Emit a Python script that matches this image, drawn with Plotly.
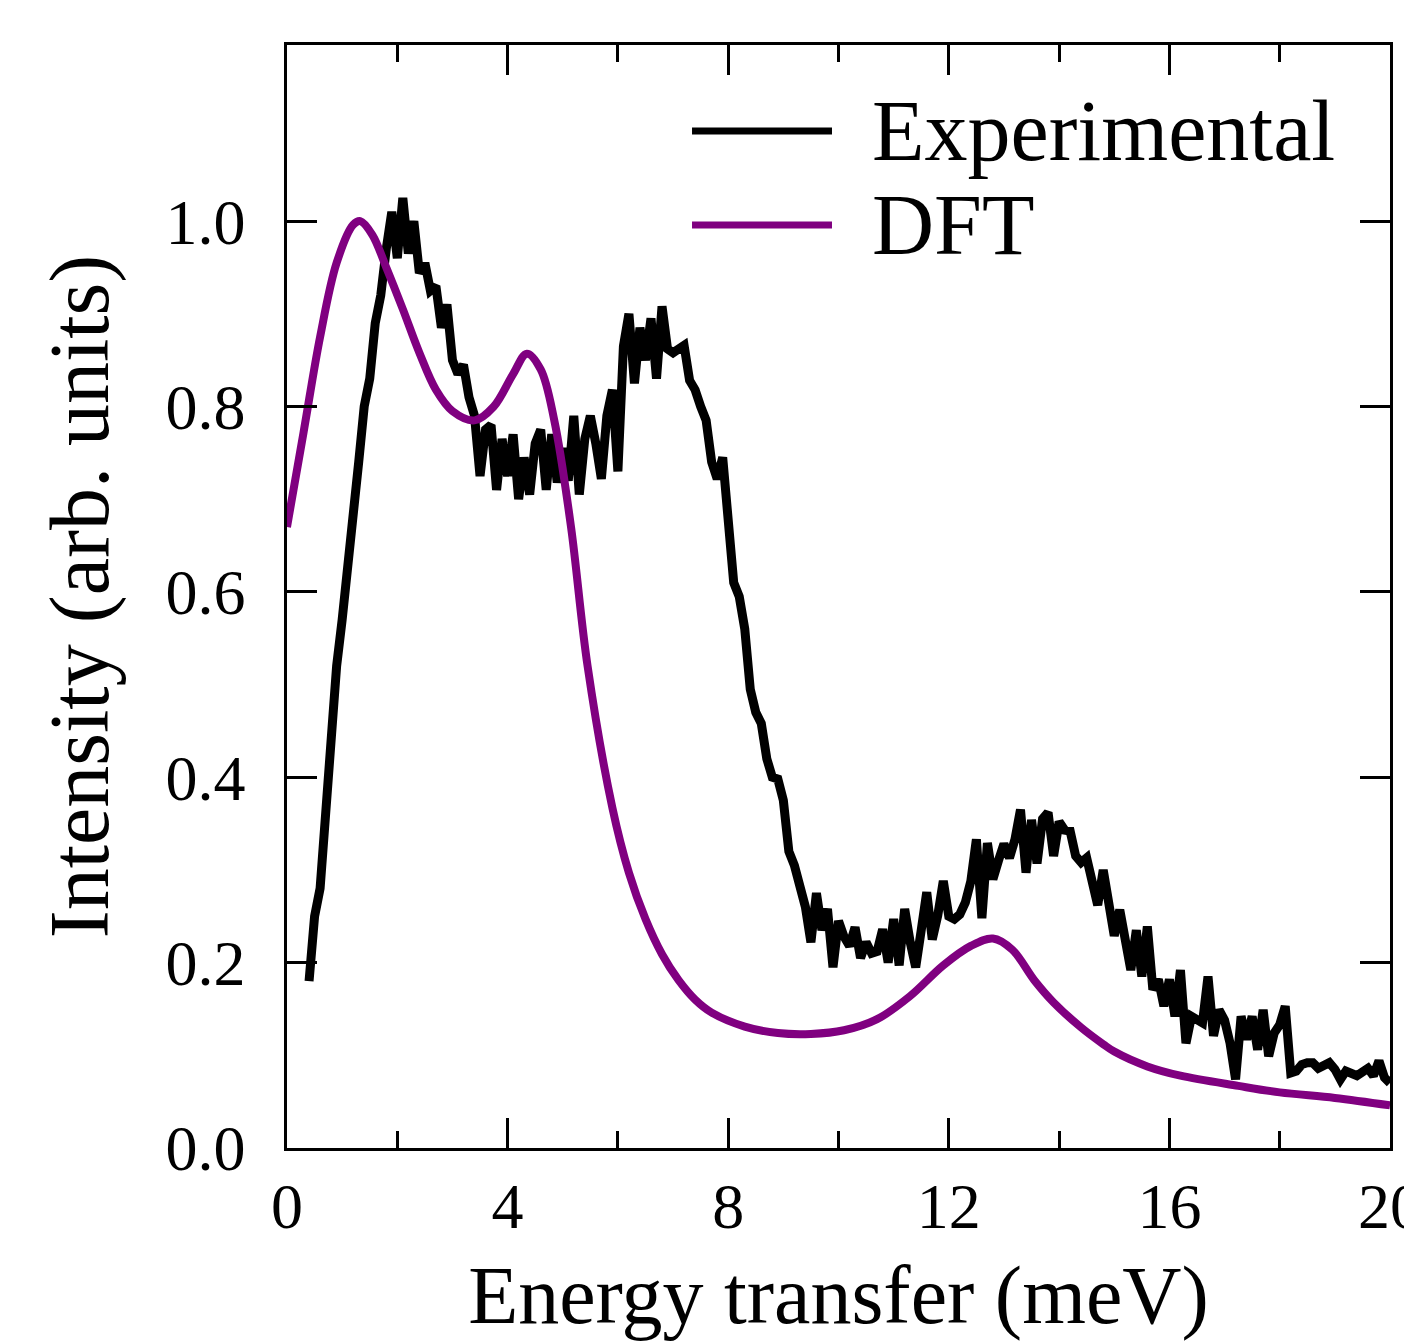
import numpy as np
import plotly.graph_objects as go

# ---------------- data ----------------
EXP_X0 = 0.4          # first energy bin (meV)
EXP_STEP = 0.1        # bin width (meV)
EXP_Y = [
    0.18, 0.25, 0.28, 0.37, 0.45, 0.52,                                  # 0.4-0.9
    0.57, 0.62, 0.69, 0.74, 0.80, 0.83, 0.89, 0.92, 0.97, 1.01,          # 1.0-1.9
    0.96, 1.025, 0.965, 1.00, 0.944, 0.955, 0.925, 0.93, 0.885, 0.91,    # 2.0-2.9
    0.85, 0.835, 0.845, 0.81, 0.79, 0.725, 0.775, 0.78, 0.71, 0.765,     # 3.0-3.9
    0.725, 0.77, 0.70, 0.745, 0.705, 0.76, 0.775, 0.71, 0.77, 0.718,     # 4.0-4.9
    0.755, 0.72, 0.79, 0.705, 0.765, 0.79, 0.76, 0.722, 0.79, 0.818,     # 5.0-5.9
    0.73, 0.865, 0.90, 0.825, 0.885, 0.85, 0.895, 0.83, 0.908, 0.862,    # 6.0-6.9
    0.858, 0.862, 0.866, 0.828, 0.818, 0.80, 0.785, 0.74, 0.722, 0.745,  # 7.0-7.9
    0.665, 0.61, 0.595, 0.56, 0.495, 0.47, 0.458, 0.42, 0.40, 0.398,     # 8.0-8.9
    0.375, 0.32, 0.305, 0.283, 0.26, 0.222, 0.275, 0.235, 0.258, 0.195,  # 9.0-9.9
    0.245, 0.228, 0.218, 0.238, 0.205, 0.222, 0.21, 0.212, 0.236, 0.20,  # 10.0-10.9
    0.247, 0.197, 0.258, 0.222, 0.195, 0.235, 0.276, 0.225, 0.251, 0.288,  # 11.0-11.9
    0.25, 0.247, 0.252, 0.265, 0.288, 0.333, 0.248, 0.329, 0.29, 0.31,   # 12.0-12.9
    0.328, 0.313, 0.333, 0.365, 0.297, 0.354, 0.307, 0.355, 0.362, 0.315,  # 13.0-13.9
    0.352, 0.343, 0.342, 0.315, 0.308, 0.313, 0.29, 0.262, 0.30, 0.27,   # 14.0-14.9
    0.229, 0.257, 0.221, 0.192, 0.235, 0.185, 0.239, 0.171, 0.182, 0.153,  # 15.0-15.9
    0.182, 0.142, 0.192, 0.113, 0.142, 0.138, 0.135, 0.185, 0.121, 0.149,  # 16.0-16.9
    0.138, 0.113, 0.074, 0.142, 0.117, 0.142, 0.106, 0.149, 0.099, 0.124,  # 17.0-17.9
    0.133, 0.153, 0.081, 0.083, 0.09, 0.092, 0.092, 0.086, 0.088, 0.092,   # 18.0-18.9
    0.085, 0.074, 0.083, 0.08, 0.078, 0.082, 0.086, 0.078, 0.094, 0.076,   # 19.0-19.9
    0.07,                                                                  # 20.0
]
EXP_X = [round(EXP_X0 + EXP_STEP * i, 2) for i in range(len(EXP_Y))]

DFT_X = [0.0, 0.3, 0.6, 0.9, 1.2, 1.33, 1.55, 1.8, 2.1, 2.4, 2.7, 3.0, 3.4,
         3.75, 4.1, 4.35, 4.6, 4.85, 5.15, 5.45, 5.9, 6.2, 6.5, 6.8, 7.1,
         7.4, 7.7, 8.3, 8.9, 9.5, 10.1, 10.7, 11.3, 11.9, 12.4, 12.8, 13.15,
         13.55, 13.9, 14.4, 14.8, 15.0, 15.6, 16.2, 17.25, 18.0, 19.0, 20.0]
DFT_Y = [0.67, 0.772, 0.875, 0.955, 0.996, 1.0, 0.985, 0.95, 0.905, 0.858,
         0.818, 0.795, 0.785, 0.80, 0.835, 0.857, 0.84, 0.784, 0.67, 0.52,
         0.367, 0.297, 0.247, 0.209, 0.181, 0.16, 0.146, 0.131, 0.124, 0.123,
         0.127, 0.139, 0.164, 0.197, 0.218, 0.226, 0.214, 0.181, 0.157, 0.13,
         0.112, 0.104, 0.088, 0.078, 0.067, 0.06, 0.054, 0.046]

SERIES_NAMES = ["Experimental", "DFT"]
SERIES_COLORS = ["#000000", "#800080"]

X_TICKS = [0, 4, 8, 12, 16, 20]
Y_TICKS = [0.0, 0.2, 0.4, 0.6, 0.8, 1.0]

FONT = "Liberation Serif"

# ---------------- figure ----------------
fig = go.Figure()
fig.add_trace(go.Scatter(x=EXP_X, y=EXP_Y, mode="lines", name=SERIES_NAMES[0],
                         line=dict(color=SERIES_COLORS[0], width=9, shape="linear"),
                         showlegend=False))
fig.add_trace(go.Scatter(x=DFT_X, y=DFT_Y, mode="lines", name=SERIES_NAMES[1],
                         line=dict(color=SERIES_COLORS[1], width=8, shape="spline", smoothing=1.0),
                         showlegend=False))

axis_common = dict(
    showline=True, linecolor="black", linewidth=2.5, mirror="ticks",
    ticks="inside", ticklen=30, tickwidth=2.5, tickcolor="black",
    showgrid=False, zeroline=False, automargin=False,
    ticklabeloverflow="allow",
    tickfont=dict(family=FONT, size=64, color="black"),
)

fig.update_xaxes(
    range=[0, 20], tickvals=X_TICKS, ticktext=[str(v) for v in X_TICKS],
    minor=dict(dtick=2, tick0=0, ticks="inside", ticklen=17, tickwidth=2.5, tickcolor="black"),
    title=dict(text="Energy transfer (meV)", font=dict(family=FONT, size=82, color="black"), standoff=26),
    ticklabelstandoff=0,
    **axis_common,
)
fig.update_yaxes(
    range=[0, 1.19], tickvals=Y_TICKS, ticktext=[f"{v:.1f}" for v in Y_TICKS],
    title=dict(text="Intensity (arb. units)", font=dict(family=FONT, size=84, color="black"), standoff=30),
    ticklabelstandoff=26,
    **axis_common,
)

# custom legend (long line samples like the original)
legend_rows = [0.922, 0.8368]
for name, color, yy in zip(SERIES_NAMES, SERIES_COLORS, legend_rows):
    fig.add_shape(type="line", xref="paper", yref="paper",
                  x0=0.3672, x1=0.4941, y0=yy, y1=yy,
                  line=dict(color=color, width=7))
    fig.add_annotation(xref="paper", yref="paper", x=0.5286, y=yy,
                       text=name, showarrow=False, xanchor="left", yanchor="middle",
                       font=dict(family=FONT, size=86, color="black"))

fig.update_layout(
    width=1412, height=1343,
    margin=dict(l=279, r=30, t=37, b=203),
    paper_bgcolor="white", plot_bgcolor="white",
    showlegend=False,
)

fig.write_html("out.html")
